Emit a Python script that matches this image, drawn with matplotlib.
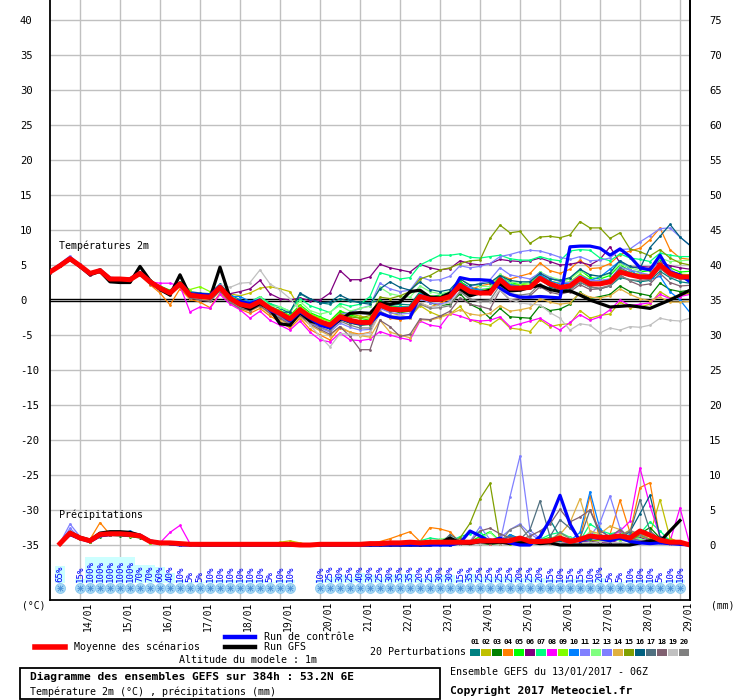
import numpy as np
import matplotlib
matplotlib.use("Agg")
import matplotlib.pyplot as plt
from matplotlib.lines import Line2D
from matplotlib.patches import Rectangle

plt.rcParams['font.family'] = ['DejaVu Sans Mono', 'DejaVu Sans']

# time base (hours after 13/01 06Z)
hours = list(range(0, 385, 6))
precip_hours = list(range(6, 385, 6))
day_hours = [18 + 24 * k for k in range(16)]
day_labels = ['14/01', '15/01', '16/01', '17/01', '18/01', '19/01', '20/01', '21/01',
              '22/01', '23/01', '24/01', '25/01', '26/01', '27/01', '28/01', '29/01']

# 2m temperature (degC)
mean_t = [4.0, 4.9, 5.9, 4.9, 3.8, 4.2, 3.0, 3.0, 2.9, 3.8,
          2.6, 1.7, 1.0, 2.3, 0.7, 0.5, 0.4, 1.8, 0.25, -0.6,
          -0.9, -0.2, -1.2, -1.9, -2.7, -1.4, -2.4, -3.1, -3.6, -2.4,
          -2.9, -3.2, -3.2, -0.7, -1.3, -1.4, -1.3, 0.5, 0.1, 0.1,
          0.5, 2.1, 1.2, 1.0, 1.0, 2.9, 1.7, 1.7, 1.8, 3.1,
          2.3, 1.8, 2.0, 3.1, 2.3, 2.3, 2.6, 4.0, 3.6, 3.3,
          3.3, 5.0, 3.8, 3.3, 3.3]
ctrl_t = [4.0, 5.0, 6.0, 4.8, 3.7, 4.3, 3.1, 3.0, 3.0, 3.9,
          2.7, 1.6, 1.1, 2.4, 0.9, 0.8, 0.7, 2.0, 0.1, -0.2,
          -0.5, 0.0, -1.5, -2.0, -3.0, -1.7, -2.6, -3.6, -4.0, -2.6,
          -3.1, -3.4, -3.3, -1.9, -2.4, -2.6, -2.5, 0.6, 0.2, 0.0,
          0.6, 3.2, 2.9, 2.9, 2.8, 1.7, 0.8, 0.4, 0.4, 0.5,
          0.4, 0.3, 7.6, 7.7, 7.7, 7.4, 6.4, 7.3, 6.2, 4.6,
          4.3, 6.4, 4.0, 3.6, 2.6]
gfs_t = [4.0, 4.9, 5.8, 4.8, 3.6, 4.1, 2.6, 2.5, 2.5, 4.8,
         2.8, 1.5, 0.7, 3.6, 0.6, 0.5, 0.3, 4.7, 0.3, -0.7,
         -1.3, -0.5, -1.3, -3.4, -3.6, -1.8, -3.0, -3.4, -3.9, -2.8,
         -1.9, -1.8, -1.9, -0.4, -0.6, -0.3, 1.2, 1.4, 0.4, 0.3,
         1.0, 1.6, 0.6, 1.0, 1.4, 2.3, 1.3, 1.4, 1.8, 2.1,
         1.5, 1.2, 1.3, 0.7, 0.0, -0.5, -1.0, -0.9, -0.8, -1.0,
         -1.2, -0.6, 0.0, 0.7, 1.4]

t01 = [4.1, 5.0, 6.1, 5.1, 3.9, 4.3, 3.1, 3.2, 3.0, 4.0, 2.8, 1.9, 1.3, 2.6, 1.2, 1.0, 0.9, 2.3, 0.8, 0.0,
       -0.3, 0.4, -0.6, -1.2, -1.9, 0.9, 0.1, -0.4, -0.6, 0.2, -0.2, -0.3, -0.4,
       0.0, -0.8, -0.6, -0.7, 1.2, 0.5, 0.7, 1.1, 2.6, 1.8, 1.5, 1.6, 3.3, 2.2, 2.1, 2.0, 3.0, 1.9,
       1.4, 1.6, 2.5, 1.9, 1.6, 2.0, 3.2, 2.9, 2.6, 2.8, 4.1, 3.2, 2.6, 2.4]
t02 = [3.9, 4.8, 5.7, 4.7, 3.6, 4.0, 2.8, 2.9, 2.7, 3.6, 2.4, 1.5, 0.9, 2.1, 0.5, 0.3, 0.6, 1.9, 0.9, 0.6,
       1.0, 1.7, 1.9, 1.6, 1.2, -1.2, -2.0, -2.6, -3.0, -1.6, -2.0, -2.3, -2.6,
       -0.9, -1.8, -2.2, -2.5, -0.8, -1.7, -2.3, -2.0, -0.9, -2.8, -3.3, -3.6, -2.6, -4.0, -4.2, -4.5, -2.8, -3.8,
       -3.5, -3.4, -1.5, -2.6, -2.2, -2.0, -0.3, -1.1, -1.0, -0.6, 1.2, 0.3, 0.6, 1.0]
t03 = [4.0, 5.0, 5.9, 4.8, 3.7, 4.1, 2.9, 2.9, 2.8, 3.7, 2.5, 1.5, 0.8, 2.1, 0.4, 0.2, 0.2, 1.6, 0.0, -0.9,
       -1.3, -0.5, -1.6, -2.4, -3.2, -1.8, -2.9, -3.6, -4.1, -2.8, -3.3, -3.6, -3.5,
       -1.0, -1.5, -1.8, -1.6, 0.3, -0.4, -0.8, -0.6, 0.9, -0.6, -1.3, -2.6, -1.2, -2.4, -2.5, -2.6, -0.8, -1.5,
       -1.3, -0.6, 1.1, 0.2, 0.5, 0.8, 2.0, 1.2, 0.9, 0.6, 2.4, 1.5, 1.2, 1.4]
t04 = [4.0, 4.8, 5.8, 4.9, 3.7, 4.0, 2.9, 2.9, 2.7, 3.6, 2.2, 1.0, -0.7, 1.6, 0.1, -0.3, -1.1, 1.0, -0.3, -1.3,
       -1.9, -1.2, -2.3, -3.1, -4.0, -2.6, -4.2, -5.0, -5.7, -4.0, -4.6, -4.9, -4.6,
       -1.8, -2.6, -2.8, -2.5, -0.4, -1.0, -0.5, 0.2, 2.4, 1.5, 2.0, 2.3, 3.6, 3.0, 3.4, 3.8, 5.3, 4.2,
       3.8, 4.4, 5.7, 4.5, 4.6, 5.2, 6.5, 7.0, 7.4, 8.6, 10.3, 7.2, 6.0, 5.8]
t05 = [4.1, 5.1, 6.0, 5.0, 3.9, 4.3, 3.1, 3.1, 3.0, 3.9, 2.8, 2.0, 1.4, 2.6, 1.0, 0.8, 0.8, 2.2, 0.4, -0.4,
       -0.6, 0.1, -0.9, -1.5, -2.2, -0.7, -1.8, -2.4, -3.0, -1.6, -2.1, -2.6, -2.9,
       -0.2, -1.0, -0.9, -1.0, 1.0, 0.4, 0.6, 0.9, 2.7, 1.6, 1.2, 1.7, 3.6, 2.5, 2.2, 2.6, 4.0, 3.1,
       2.7, 3.0, 4.3, 3.2, 3.0, 3.5, 5.0, 4.2, 4.0, 4.2, 5.8, 4.6, 4.0, 4.1]
t06 = [4.0, 4.9, 5.8, 4.8, 3.7, 4.1, 3.0, 2.9, 2.8, 3.7, 2.5, 1.6, 1.0, 2.2, 0.8, 0.6, 0.7, 2.0, 0.9, 1.2,
       1.6, 2.8, 0.9, 0.2, 0.0, 0.3, -0.1, 0.0, 1.0, 4.2, 2.9, 2.9, 3.3,
       5.1, 4.6, 4.3, 4.0, 5.1, 4.6, 4.3, 4.5, 5.6, 5.2, 5.0, 5.2, 5.8, 5.6, 5.5, 5.6, 6.0, 5.5,
       5.0, 5.1, 5.4, 5.0, 5.8, 7.6, 5.3, 4.6, 4.8, 4.7, 5.4, 4.9, 4.6, 4.4]
t07 = [4.1, 5.0, 6.0, 5.0, 3.9, 4.4, 3.2, 3.1, 3.0, 3.9, 2.7, 1.9, 1.2, 2.5, 0.9, 0.9, 0.7, 2.1, 0.6, -0.1,
       -0.3, 0.5, -0.5, -1.0, -1.6, 0.2, -0.8, -1.3, -1.8, -0.5, -0.9, -0.6, 0.5,
       3.9, 3.5, 3.0, 3.2, 5.0, 5.7, 6.4, 6.4, 6.6, 6.1, 6.0, 6.2, 6.4, 5.9, 5.7, 5.7, 6.2, 5.8,
       5.6, 7.0, 7.2, 7.1, 6.0, 5.6, 6.6, 6.0, 5.8, 5.5, 6.7, 6.4, 6.2, 6.2]
t08 = [3.9, 4.8, 5.8, 4.8, 3.6, 4.0, 2.8, 2.8, 2.8, 3.7, 2.6, 2.4, 2.4, 2.0, -1.7, -1.0, -1.2, 0.8, -0.6, -1.4,
       -2.6, -1.6, -2.9, -3.6, -4.3, -3.0, -4.6, -5.7, -6.0, -4.7, -5.7, -5.8, -5.6,
       -4.5, -5.0, -5.4, -5.7, -3.0, -3.6, -3.8, -1.9, -2.3, -2.8, -3.0, -2.9, -2.4, -3.8, -3.4, -3.0, -2.6, -3.5,
       -4.3, -3.2, -2.1, -2.9, -2.4, -1.4, 0.0, -0.8, -0.6, -0.4, 0.8, 0.2, 0.5, 0.8]
t09 = [4.0, 5.0, 5.9, 4.9, 3.8, 4.3, 3.1, 3.0, 2.9, 3.9, 2.7, 1.8, 1.2, 2.3, 1.5, 1.9, 1.2, 2.0, 0.5, -0.3,
       -0.7, 0.0, -1.0, -1.6, -2.3, -0.9, -2.0, -2.6, -3.1, -2.0, -2.4, -2.5, -2.6,
       -0.4, -1.1, -1.2, -1.1, 0.8, 0.6, 0.4, 0.8, 2.4, 1.6, 1.4, 1.5, 3.2, 2.1, 2.2, 2.3, 3.6, 2.7,
       2.4, 2.6, 3.7, 2.9, 2.7, 3.0, 4.4, 3.9, 3.7, 3.6, 5.3, 4.1, 3.7, 3.6]
t10 = [4.0, 4.9, 5.9, 4.9, 3.8, 4.2, 3.0, 3.0, 2.9, 3.8, 2.6, 1.8, 1.1, 2.4, 0.9, 0.7, 0.6, 2.1, 0.5, 0.5,
       -0.2, 0.2, -1.1, -1.7, -2.6, -1.2, -2.3, -3.0, -3.4, -2.2, -2.7, -3.1, -3.0,
       -0.5, -1.1, -1.0, -1.0, 0.9, 0.4, 0.3, 0.8, 2.4, 1.7, 1.4, 1.3, 3.3, 2.2, 1.9, 2.0, 3.6, 2.7,
       2.3, 2.4, 3.5, 2.8, 3.3, 4.4, 5.6, 4.4, 3.2, 2.9, 3.4, 1.2, 0.0, -1.8]
t11 = [4.2, 5.2, 6.3, 5.1, 3.9, 4.3, 3.0, 3.0, 2.9, 3.8, 2.5, 1.6, 0.9, 2.2, 0.6, 0.4, 0.3, 1.7, 0.1, -0.8,
       -1.1, -0.4, -1.5, -2.3, -3.1, -1.9, -2.8, -3.2, -3.4, -2.0, -1.8, -1.2, -0.8,
       2.4, 1.6, 1.2, 1.4, 3.3, 2.8, 2.9, 3.4, 4.9, 4.6, 4.8, 5.2, 6.2, 6.5, 6.9, 7.1, 7.0, 6.6,
       6.1, 5.8, 6.2, 5.6, 5.7, 6.0, 7.2, 7.3, 8.3, 9.2, 10.2, 10.3, 9.0, 7.8]
t12 = [4.1, 5.0, 5.9, 4.8, 3.8, 4.2, 3.1, 3.1, 2.9, 3.7, 2.6, 1.7, 1.1, 2.3, 0.8, 0.7, 0.6, 1.9, 0.5, -0.3,
       -0.5, 0.4, -0.8, -1.0, -1.6, -0.2, -1.5, -2.0, -1.7, -0.8, -1.6, -1.2, -0.9,
       1.8, 0.9, 0.6, 0.4, 2.0, 1.2, 0.9, 1.2, 3.0, 2.2, 2.0, 1.9, 3.7, 2.6, 2.4, 2.5, 4.0, 3.3,
       2.9, 3.0, 4.1, 3.6, 3.3, 3.8, 5.2, 4.6, 4.2, 4.4, 6.0, 5.5, 5.6, 5.7]
t13 = [4.0, 4.9, 5.9, 4.9, 3.9, 4.2, 2.9, 2.9, 2.9, 3.8, 2.4, 1.5, 0.9, 2.2, 0.5, 0.2, 0.1, 1.5, 0.0, -0.9,
       -1.3, -0.6, -1.6, -2.4, -3.4, -2.0, -3.2, -4.0, -4.6, -3.3, -3.9, -4.3, -4.2,
       -1.2, -1.8, -2.0, -1.9, 0.2, -0.4, -0.6, -0.2, 1.8, 1.9, 2.4, 2.9, 4.6, 3.6, 3.3, 3.0, 3.9, 3.2,
       2.6, 2.5, 3.5, 2.8, 2.8, 3.0, 4.7, 4.3, 3.9, 3.6, 6.2, 4.4, 3.5, 3.3]
t14 = [3.9, 4.8, 5.8, 4.8, 3.7, 4.1, 2.9, 2.9, 2.8, 3.7, 2.4, 1.4, 0.7, 2.0, 0.3, 0.1, 0.0, 1.4, -0.3, -1.2,
       -1.6, -0.9, -2.0, -2.8, -3.6, -2.4, -3.6, -4.4, -5.1, -3.8, -4.6, -5.1, -5.3,
       -2.9, -4.6, -5.0, -5.4, -2.8, -2.9, -2.5, -2.0, -1.4, -2.0, -2.2, -1.9, -0.8, -1.6, -1.4, -1.1, 0.2, -0.3,
       -0.6, -0.4, 1.0, 0.4, 0.3, 0.6, 1.6, 0.8, 0.2, -0.1, 0.4, -0.3, -0.3, -0.2]
t15 = [4.1, 5.0, 6.0, 5.0, 3.8, 4.2, 3.0, 3.0, 3.0, 3.9, 2.7, 1.8, 1.1, 2.4, 0.8, 0.6, 0.5, 1.9, 0.4, -0.4,
       -0.8, -0.1, -1.1, -1.7, -2.5, -1.2, -2.2, -2.9, -3.3, -2.0, -2.4, -2.6, -2.2,
       0.4, 0.2, 0.6, 1.2, 3.0, 3.5, 4.3, 4.6, 5.2, 5.6, 5.7, 8.8, 10.7, 9.6, 9.8, 8.1, 9.0, 9.1,
       8.9, 9.3, 11.2, 10.3, 10.3, 8.8, 9.6, 7.3, 6.9, 6.3, 7.2, 6.0, 5.3, 5.0]
t16 = [4.0, 4.9, 5.9, 4.9, 3.8, 4.2, 3.0, 2.9, 2.9, 3.8, 2.6, 1.7, 1.1, 2.3, 0.8, 0.6, 0.5, 1.9, 0.3, -0.5,
       -0.8, -0.1, -1.1, -1.8, -1.7, 1.0, 0.2, -0.4, -0.3, 0.7, 0.0, -0.4, -0.6,
       1.6, 2.6, 1.8, 1.4, 2.6, 1.5, 1.2, 1.5, 3.0, 2.1, 2.3, 2.5, 3.5, 2.8, 2.6, 2.6, 3.8, 3.0,
       2.8, 3.2, 4.4, 3.6, 3.4, 3.9, 5.6, 4.8, 4.5, 7.5, 9.1, 10.8, 9.0, 7.8]
t17 = [4.0, 4.9, 5.8, 4.9, 3.7, 4.1, 3.0, 3.0, 2.9, 3.7, 2.5, 1.6, 1.0, 2.2, 0.6, 0.4, 0.2, 1.7, 0.2, -0.7,
       -1.0, -0.3, -1.3, -2.0, -2.9, -1.6, -2.6, -3.3, -3.8, -2.7, -3.1, -3.5, -3.4,
       -0.8, -1.5, -1.6, -1.4, 0.4, -0.1, 0.0, 0.3, 1.9, 1.0, 0.9, 0.9, 2.6, 1.5, 1.4, 1.7, 3.2, 2.3,
       1.9, 2.2, 3.3, 2.6, 2.5, 2.9, 4.6, 3.9, 3.4, 3.5, 4.6, 3.4, 3.0, 2.9]
t18 = [3.9, 4.8, 5.8, 4.8, 3.6, 4.0, 2.8, 2.8, 2.7, 3.6, 2.3, 1.4, 0.7, 2.0, 0.3, 0.0, -0.2, 1.3, -0.3, -1.2,
       -1.5, -0.8, -1.9, -2.6, -3.5, -2.2, -3.4, -4.2, -4.9, -3.8, -5.2, -7.1, -7.1,
       -2.9, -3.8, -5.2, -4.9, -2.7, -2.8, -2.3, -1.6, 0.3, -0.6, -0.9, -1.3, 1.4, 0.0, 0.2, 0.6, 1.9, 1.1,
       0.8, 1.2, 2.2, 1.5, 1.6, 2.0, 3.6, 2.7, 2.1, 2.3, 3.8, 2.5, 2.0, 2.1]
t19 = [4.0, 5.0, 5.9, 4.9, 3.8, 4.1, 2.9, 3.0, 2.9, 3.8, 2.6, 1.7, 1.0, 2.3, 0.7, 0.5, 0.8, 2.2, 1.8, 2.4,
       2.5, 4.3, 2.3, 1.4, 0.2, -1.5, -3.6, -5.2, -6.7, -4.8, -4.9, -5.0, -4.7,
       -1.8, -2.4, -2.2, -2.6, -0.4, -1.0, -0.8, -0.3, 1.2, 0.2, -0.3, -0.3, 1.5, 0.1, -0.4, -0.6, -0.7, -1.8,
       -2.6, -4.3, -3.4, -3.6, -4.7, -4.0, -4.3, -3.8, -3.9, -3.6, -2.6, -2.9, -3.0, -2.6]
t20 = [3.9, 4.8, 5.7, 4.7, 3.7, 4.0, 2.8, 2.8, 2.7, 3.6, 2.4, 1.5, 0.8, 2.1, 0.5, 0.3, 0.2, 1.5, -0.1, -1.0,
       -1.4, -0.6, -1.6, -2.3, -3.3, -1.9, -3.1, -3.9, -4.4, -3.0, -3.6, -4.0, -4.0,
       -1.6, -2.3, -2.5, -2.4, -0.6, -1.2, -1.1, -0.8, 1.2, 0.1, -0.1, 0.0, 2.1, 0.9, 0.7, 0.9, 2.3, 1.5,
       1.2, 1.4, 2.6, 1.8, 1.7, 2.1, 3.4, 2.9, 2.8, 2.9, 4.5, 3.4, 3.0, 3.1]

# 6h precipitation (mm), from h6
mean_p = [0.2, 1.7, 1.0, 0.6, 1.5, 1.6, 1.6, 1.5, 1.3, 0.5,
          0.3, 0.3, 0.2, 0.1, 0.1, 0.1, 0.1, 0.1, 0.1, 0.1,
          0.1, 0.1, 0.1, 0.1, 0.0, 0.0, 0.1, 0.1, 0.1, 0.1,
          0.1, 0.2, 0.2, 0.3, 0.3, 0.4, 0.3, 0.4, 0.4, 0.4,
          0.4, 0.4, 0.6, 0.6, 0.6, 0.6, 1.0, 0.5, 0.5, 0.6,
          1.0, 0.5, 0.8, 1.3, 1.1, 1.1, 1.3, 1.0, 2.0, 1.4,
          0.7, 0.4, 0.4, 0.0]
ctrl_p = [0.2, 1.5, 0.9, 0.5, 1.3, 1.5, 1.5, 1.4, 1.4, 0.6,
          0.3, 0.2, 0.0, 0.0, 0.0, 0.0, 0.0, 0.0, 0.0, 0.0,
          0.0, 0.0, 0.0, 0.0, 0.0, 0.0, 0.0, 0.0, 0.0, 0.0,
          0.0, 0.0, 0.0, 0.0, 0.0, 0.0, 0.0, 0.0, 0.0, 0.0,
          0.3, 2.0, 1.3, 0.5, 1.0, 0.3, 0.0, 0.0, 1.2, 3.6,
          7.1, 3.0, 0.5, 1.2, 0.9, 0.6, 1.0, 0.5, 0.3, 0.2,
          0.3, 0.2, 0.1, 0.0]
gfs_p = [0.2, 1.8, 1.1, 0.7, 1.7, 1.9, 1.9, 1.8, 1.4, 0.5,
         0.3, 0.2, 0.1, 0.1, 0.0, 0.0, 0.0, 0.0, 0.0, 0.0,
         0.0, 0.0, 0.0, 0.0, 0.0, 0.0, 0.0, 0.0, 0.0, 0.0,
         0.0, 0.0, 0.0, 0.0, 0.0, 0.0, 0.0, 0.0, 0.3, 1.0,
         0.3, 0.2, 0.5, 0.3, 0.4, 0.2, 0.3, 0.4, 0.2, 0.3,
         0.0, 0.0, 0.0, 0.0, 0.0, 0.0, 0.0, 0.0, 0.3, 0.6,
         0.5, 2.0, 3.5]

p01 = [0.2, 1.6, 1.0, 0.5, 1.4, 1.6, 1.7, 1.6, 1.2, 0.4] + [0.3, 0.2, 0.1] + [0.0] * 17 + \
      [0.0, 0.0, 0.0, 0.1, 0.2, 0.4, 0.3, 0.2, 0.5, 0.3, 0.2, 0.5, 0.8, 0.4, 0.3, 1.5, 0.9, 0.6, 0.8, 3.6,
       1.2, 0.3, 0.4, 0.6, 0.4, 1.0, 0.7, 0.9, 0.4, 0.6, 0.3, 0.2, 0.1, 0.0]
p02 = [0.1, 1.5, 0.9, 0.6, 1.3, 1.5, 1.5, 1.3, 1.1, 0.4] + [0.2, 0.2, 0.1] + [0.0] * 9 + [0.4, 0.6, 0.3] + [0.0] * 5 + \
      [0.0, 0.0, 0.2, 0.1, 0.0, 0.1, 0.3, 0.2, 0.1, 0.0, 0.3, 0.2, 0.4, 0.6, 0.4, 0.2, 0.3, 0.8, 0.5, 0.3,
       0.2, 0.4, 1.2, 0.6, 0.8, 0.5, 1.4, 2.1, 0.9, 1.5, 6.5, 1.0, 0.3, 0.0]
p03 = [0.1, 1.4, 0.8, 0.4, 1.2, 1.4, 1.3, 1.2, 1.0, 0.4] + [0.2, 0.2, 0.1] + [0.0] * 17 + \
      [0.0, 0.0, 0.0, 0.0, 0.1, 0.0, 0.2, 0.1, 0.0, 0.0, 0.1, 0.3, 0.2, 0.1, 0.2, 0.4, 0.3, 0.2, 0.6, 0.4,
       0.3, 0.2, 0.5, 0.8, 0.4, 0.6, 0.9, 0.4, 1.6, 2.5, 1.0, 0.4, 0.2, 0.0]
p04 = [0.2, 1.6, 1.1, 0.8, 3.2, 1.5, 1.4, 1.3, 1.2, 0.4] + [0.2, 0.1, 0.1] + [0.0] * 17 + \
      [0.0, 0.2, 0.5, 0.9, 1.4, 1.9, 0.5, 2.5, 2.3, 1.9, 0.3, 0.2, 0.4, 0.3, 0.2, 0.6, 0.3, 0.5, 0.4, 0.2,
       0.3, 0.6, 1.0, 7.0, 0.5, 1.5, 6.4, 1.8, 8.2, 8.9, 1.0, 0.8, 0.5, 0.0]
p05 = [0.2, 1.7, 0.9, 0.5, 1.4, 1.5, 1.4, 1.3, 1.2, 0.3] + [0.2, 0.1] + [0.0] * 18 + \
      [0.0, 0.0, 0.0, 0.1, 0.2, 0.1, 0.0, 0.3, 0.2, 0.1, 0.4, 0.5, 1.2, 1.9, 0.6, 0.3, 0.5, 0.4, 0.7, 1.1,
       0.6, 0.9, 0.4, 1.2, 0.8, 0.5, 1.0, 1.4, 0.9, 0.5, 0.8, 0.4, 0.2, 0.0]
p06 = [0.2, 1.8, 1.1, 0.6, 1.6, 1.7, 1.7, 1.6, 1.3, 0.5] + [0.3, 0.2, 0.1] + [0.0] * 17 + \
      [0.0, 0.0, 0.0, 0.0, 0.2, 0.1, 0.0, 0.2, 0.1, 0.0, 0.2, 0.4, 0.3, 0.2, 0.5, 0.8, 0.3, 0.4, 0.6, 0.3,
       0.2, 0.5, 0.3, 0.6, 0.4, 0.3, 0.8, 0.6, 1.0, 0.7, 0.3, 0.2, 0.1, 0.0]
p07 = [0.2, 1.6, 1.0, 0.6, 1.5, 1.6, 1.5, 1.4, 1.2, 0.4] + [0.2, 0.1] + [0.0] * 18 + \
      [0.0, 0.0, 0.1, 0.0, 0.2, 0.4, 0.6, 1.0, 0.8, 0.5, 1.2, 1.6, 1.9, 0.4, 0.3, 0.6, 0.9, 0.5, 0.8, 1.5,
       1.8, 1.1, 0.6, 3.0, 2.1, 1.6, 1.9, 1.2, 1.6, 3.3, 2.0, 0.6, 0.3, 0.0]
p08 = [0.2, 1.7, 1.0, 0.6, 1.4, 1.5, 1.6, 1.4, 1.2, 0.4] + [0.3, 1.8, 2.8, 0.2] + [0.0] * 16 + \
      [0.0, 0.0, 0.0, 0.0, 0.1, 0.2, 0.0, 0.1, 0.3, 0.2, 0.1, 0.3, 0.5, 0.2, 0.4, 0.6, 0.3, 0.2, 0.5, 0.4,
       0.6, 0.3, 0.9, 1.4, 0.6, 1.2, 2.0, 3.4, 11.0, 5.6, 1.2, 0.5, 5.3, 0.0]
p09 = [0.2, 1.5, 0.8, 0.5, 1.3, 1.4, 1.5, 1.4, 1.1, 0.3] + [0.2, 0.1] + [0.0] * 18 + \
      [0.0, 0.0, 0.0, 0.0, 0.0, 0.2, 0.1, 0.0, 0.2, 0.1, 0.3, 0.2, 0.5, 0.4, 0.3, 0.2, 0.6, 0.4, 0.3, 0.5,
       0.4, 0.7, 0.5, 0.9, 0.6, 1.1, 0.8, 1.5, 1.9, 0.6, 0.5, 0.8, 0.3, 0.0]
p10 = [0.2, 1.6, 1.0, 0.5, 1.3, 1.5, 1.6, 2.0, 1.3, 0.6] + [0.4, 0.3, 0.1] + [0.0] * 17 + \
      [0.0, 0.0, 0.0, 0.1, 0.0, 0.2, 0.3, 0.1, 0.2, 0.0, 0.2, 0.4, 0.6, 0.3, 0.5, 1.4, 0.8, 0.6, 0.4, 0.7,
       1.1, 0.6, 1.8, 7.6, 2.3, 1.0, 0.8, 1.5, 0.9, 0.4, 0.3, 0.6, 0.4, 0.0]
p11 = [0.3, 3.0, 1.2, 0.7, 1.6, 1.7, 1.6, 1.5, 1.3, 0.5] + [0.3, 0.2, 0.1] + [0.0] * 17 + \
      [0.0, 0.0, 0.0, 0.1, 0.0, 0.0, 0.2, 0.3, 0.1, 0.2, 0.6, 0.5, 2.6, 0.8, 0.4, 6.9, 12.7, 2.1, 0.9, 0.5,
       0.4, 0.6, 0.8, 0.5, 1.2, 0.9, 0.6, 1.1, 0.7, 0.5, 0.3, 0.2, 0.1, 0.0]
p12 = [0.2, 1.7, 1.1, 0.6, 1.5, 1.6, 1.5, 1.4, 1.2, 0.5] + [0.2, 0.1] + [0.0] * 18 + \
      [0.0, 0.0, 0.0, 0.0, 0.0, 0.1, 0.2, 0.4, 0.8, 1.1, 0.6, 0.4, 0.9, 1.8, 0.5, 0.3, 0.4, 0.6, 0.5, 0.9,
       1.6, 1.0, 0.6, 1.9, 1.3, 0.8, 0.6, 1.2, 0.9, 0.5, 0.4, 0.3, 0.2, 0.0]
p13 = [0.2, 2.4, 1.0, 0.6, 1.4, 1.6, 1.6, 1.4, 1.2, 0.4] + [0.2, 0.1] + [0.0] * 18 + \
      [0.0, 0.0, 0.0, 0.0, 0.1, 0.0, 0.1, 0.2, 0.0, 0.1, 0.3, 0.2, 0.4, 0.6, 1.0, 2.2, 3.0, 1.6, 0.7, 0.5,
       0.8, 0.4, 0.6, 1.2, 3.2, 7.0, 2.4, 0.9, 0.6, 0.5, 0.4, 0.6, 0.3, 0.0]
p14 = [0.2, 1.5, 0.9, 0.5, 1.3, 1.4, 1.4, 1.3, 1.1, 0.4] + [0.2, 0.1] + [0.0] * 18 + \
      [0.0, 0.0, 0.0, 0.0, 0.0, 0.1, 0.2, 0.1, 0.2, 0.3, 0.2, 0.4, 0.3, 0.2, 0.5, 0.3, 0.6, 0.4, 0.3, 0.7,
       1.5, 3.2, 6.6, 2.0, 1.6, 2.7, 2.2, 1.0, 1.6, 0.8, 0.6, 0.5, 0.2, 0.0]
p15 = [0.2, 1.6, 1.0, 0.5, 1.5, 1.5, 1.6, 1.5, 1.2, 0.4] + [0.2, 0.1] + [0.0] * 18 + \
      [0.0, 0.0, 0.0, 0.0, 0.1, 0.2, 0.3, 0.6, 0.4, 0.2, 1.0, 3.1, 6.6, 8.8, 0.4, 0.3, 0.5, 0.6, 0.4, 0.3,
       0.6, 0.5, 0.9, 0.7, 0.5, 1.3, 0.8, 0.6, 1.4, 0.8, 0.5, 0.4, 0.2, 0.0]
p16 = [0.2, 1.6, 1.0, 0.6, 1.4, 1.6, 1.5, 1.5, 1.3, 0.5] + [0.3, 0.2] + [0.0] * 18 + \
      [0.0, 0.0, 0.0, 0.0, 0.0, 0.0, 0.0, 0.3, 0.2, 0.4, 0.2, 0.4, 0.3, 0.5, 0.4, 0.6, 0.3, 0.5, 0.7, 0.4,
       0.6, 0.9, 0.5, 0.8, 1.3, 0.7, 1.0, 1.9, 4.5, 7.1, 1.2, 0.6, 0.3, 0.0]
p17 = [0.2, 1.7, 1.1, 0.6, 1.5, 1.6, 1.7, 1.6, 1.3, 0.5] + [0.4, 0.3, 0.1] + [0.0] * 17 + \
      [0.0, 0.0, 0.0, 0.0, 0.0, 0.1, 0.0, 0.2, 0.1, 1.5, 0.6, 0.3, 0.5, 0.4, 0.6, 1.2, 0.8, 2.2, 6.3, 1.2,
       3.6, 2.4, 0.9, 5.0, 1.5, 1.0, 1.4, 1.8, 6.5, 2.0, 0.8, 0.4, 0.2, 0.0]
p18 = [0.2, 1.6, 1.0, 0.6, 1.4, 1.5, 1.6, 1.5, 1.2, 0.4] + [0.3, 0.2] + [0.0] * 18 + \
      [0.0, 0.0, 0.0, 0.0, 0.1, 0.2, 0.1, 0.0, 0.2, 0.1, 0.3, 0.4, 2.0, 2.4, 1.6, 1.0, 0.7, 1.3, 2.0, 3.0,
       5.1, 3.3, 4.0, 5.0, 2.0, 1.2, 2.2, 1.0, 0.6, 0.5, 0.5, 0.4, 0.3, 0.0]
p19 = [0.2, 1.6, 1.0, 0.6, 1.4, 1.6, 1.6, 1.4, 1.2, 0.4] + [0.2, 0.1] + [0.0] * 18 + \
      [0.0, 0.0, 0.0, 0.0, 0.0, 0.0, 0.1, 0.0, 0.1, 0.2, 0.1, 0.2, 0.1, 0.3, 0.2, 0.4, 0.3, 0.2, 0.3, 0.2,
       0.3, 0.2, 0.4, 0.3, 0.5, 0.4, 0.3, 0.6, 0.4, 0.3, 0.2, 0.1, 0.1, 0.0]
p20 = [0.2, 2.0, 1.1, 0.7, 1.6, 1.7, 1.7, 1.5, 1.3, 0.5] + [0.3, 0.2, 0.1] + [0.0] * 17 + \
      [0.0, 0.0, 0.0, 0.0, 0.0, 0.1, 0.2, 0.1, 0.3, 0.5, 0.4, 0.6, 0.8, 0.5, 0.3, 2.2, 2.8, 0.9, 0.6, 0.5,
       1.8, 0.9, 0.7, 1.3, 0.8, 0.6, 1.2, 2.1, 1.5, 0.7, 0.4, 0.3, 0.2, 0.0]

# probability of precipitation (%) per 6h step, h6..h378 ; None = no symbol
pct_hours = list(range(6, 384, 6))
pct_values = [65, None, 15, 100, 100, 100, 100, 100, 70, 70, 60, 40, 10, 5, 5, 10, 10, 10, 10, 10, 10, 5,
              10, 10, None, None, 10, 25, 30, 25, 40, 30, 25, 30, 35, 35, 20, 25, 30, 30, 15, 35,
              25, 25, 25, 25, 20, 25, 20, 15, 10, 15, 15, 10, 20, 5, 5, 10, 10, 10, 5, 10, 10]

pert_temps = [t01, t02, t03, t04, t05, t06, t07, t08, t09, t10,
              t11, t12, t13, t14, t15, t16, t17, t18, t19, t20]
pert_precs = [p01, p02, p03, p04, p05, p06, p07, p08, p09, p10,
              p11, p12, p13, p14, p15, p16, p17, p18, p19, p20]
pert_colors = ['#008080', '#c0c000', '#008000', '#ff8000', '#00ff00', '#800080', '#00ff80',
               '#ff00ff', '#80ff00', '#0080ff', '#8080ff', '#80ff80', '#7f7fff', '#e0b040',
               '#80a000', '#006080', '#507080', '#806070', '#c0c0c0', '#808080']

PRECIP_BASE = -35.0  # 0 mm sits on -35 of the temperature scale

W, H = 740, 700


def fx(x):
    return x / W


def fy(y):
    return 1 - y / H


fig = plt.figure(figsize=(7.4, 7.0), dpi=100)
ax = fig.add_axes([fx(50), 1 - 600 / H, 640 / W, 600 / H])
ax.set_xlim(0, 384)
ax.set_ylim(-300 / 7, 300 / 7)

yt = list(range(-35, 41, 5))
grid_c = '#c0c0c0'
for v in yt:
    if v != 0:
        ax.axhline(v, color=grid_c, lw=1, zorder=0.5)
for h in day_hours:
    ax.axvline(h, color=grid_c, lw=1, zorder=0.5)
ax.axhline(0.15, color='black', lw=1, zorder=1.5)
ax.axhline(-0.15, color='black', lw=1, zorder=1.5)

# precipitation probability boxes, labels and snow symbols
bar_h = [h for h, p in zip(pct_hours, pct_values) if p is not None]
bar_p = [p for p in pct_values if p is not None]
ax.bar(bar_h, [p / 100 * 26 / 7 for p in bar_p], width=6, bottom=-283 / 7,
       color='#ccffff', zorder=0.8, linewidth=0)
for h, p in zip(bar_h, bar_p):
    ax.text(h, -282 / 7, f'{p}%', rotation=90, ha='center', va='bottom',
            color='#0000ff', fontsize=6.6, zorder=5)
snow_y = [-288 / 7] * len(bar_h)
ax.scatter(bar_h, snow_y, s=52, marker='o', facecolor='#a8daf5', edgecolor='#80c4ee',
           linewidth=0.5, zorder=3)
ax.scatter(bar_h, snow_y, s=16, marker='x', color='#4a90d9', linewidth=0.6, zorder=3.1)
ax.scatter(bar_h, snow_y, s=22, marker='+', color='#4a90d9', linewidth=0.6, zorder=3.1)

# ensemble members
for temps, precs, c in zip(pert_temps, pert_precs, pert_colors):
    ax.plot(hours, temps, color=c, lw=0.9, marker='o', ms=2.0, mew=0, zorder=2)
    ax.plot(precip_hours, np.array(precs) + PRECIP_BASE, color=c, lw=0.9,
            marker='o', ms=2.0, mew=0, zorder=2)

ax.plot(hours, gfs_t, color='black', lw=2.3, zorder=3)
ax.plot(precip_hours[:len(gfs_p)], np.array(gfs_p) + PRECIP_BASE, color='black', lw=2.3, zorder=3)
ax.plot(hours, ctrl_t, color='#0000ff', lw=2.3, zorder=3.5)
ax.plot(precip_hours, np.array(ctrl_p) + PRECIP_BASE, color='#0000ff', lw=2.3, zorder=3.5)
ax.plot(hours, mean_t, color='#ff0000', lw=3.6, zorder=4)
ax.plot(precip_hours, np.array(mean_p) + PRECIP_BASE, color='#ff0000', lw=3.6, zorder=4)

ax.text(0.0140, (600 - 246) / 600, 'Températures 2m', transform=ax.transAxes, fontsize=7.2, va='center')
ax.text(0.0140, (600 - 515) / 600, 'Précipitations', transform=ax.transAxes, fontsize=7.2, va='center')

# axes, ticks
ax.set_yticks(yt)
ax.set_yticklabels([str(v) for v in yt])
for lab in ax.get_yticklabels():
    lab.set_horizontalalignment('left')
ax.tick_params(axis='y', length=0, pad=21.6, labelsize=7.6)
ax.set_xticks(day_hours)
ax.set_xticklabels([])
ax.set_xticks([h + 4.8 for h in day_hours], minor=True)
ax.set_xticklabels(day_labels, minor=True)
ax.tick_params(axis='x', which='major', length=0)
ax.tick_params(axis='x', which='minor', length=0, pad=1.5, labelsize=7, labelrotation=90)
for s in ['left', 'right', 'bottom']:
    ax.spines[s].set_linewidth(1.3)
ax.spines['top'].set_visible(False)

ax2 = ax.twinx()
ax2.set_ylim(ax.get_ylim())
ax2.set_yticks(yt)
ax2.set_yticklabels([str(v + 35) for v in yt])
ax2.tick_params(axis='y', length=0, pad=13.7, labelsize=7.6)
for s in ['left', 'top', 'bottom']:
    ax2.spines[s].set_visible(False)
ax2.spines['right'].set_linewidth(1.3)

fig.text(fx(22), fy(606), '(°C)', fontsize=7, va='center')
fig.text(fx(711), fy(606), '(mm)', fontsize=7, va='center')

# legend
fig.add_artist(Line2D([fx(35), fx(65)], [fy(647), fy(647)], color='#ff0000', lw=4))
fig.text(fx(74), fy(647), 'Moyenne des scénarios', fontsize=7.2, va='center')
fig.add_artist(Line2D([fx(225), fx(255)], [fy(637), fy(637)], color='#0000ff', lw=3.2))
fig.text(fx(264), fy(637), 'Run de contrôle', fontsize=7.2, va='center')
fig.add_artist(Line2D([fx(225), fx(255)], [fy(647), fy(647)], color='black', lw=3.2))
fig.text(fx(264), fy(647), 'Run GFS', fontsize=7.2, va='center')
fig.text(fx(179), fy(660), 'Altitude du modele : 1m', fontsize=7.2, va='center')

fig.text(fx(370), fy(652), '20 Perturbations', fontsize=7.2, va='center')
for i, c in enumerate(pert_colors):
    x0 = 470 + i * 11
    fig.add_artist(Rectangle((fx(x0), fy(656)), 10 / W, 7 / H, facecolor=c, edgecolor='none'))
    fig.text(fx(x0 + 5), fy(642), f'{i + 1:02d}', fontsize=5.4, ha='center', va='center',
             fontweight='bold')

fig.add_artist(Rectangle((fx(20), fy(699)), 420 / W, 31 / H, facecolor='none',
                         edgecolor='black', lw=1.3))
fig.text(fx(30), fy(677), 'Diagramme des ensembles GEFS sur 384h : 53.2N 6E',
         fontsize=8.1, fontweight='bold', va='center')
fig.text(fx(30), fy(692), 'Température 2m (°C) , précipitations (mm)', fontsize=7.2, va='center')
fig.text(fx(450), fy(672), 'Ensemble GEFS du 13/01/2017 - 06Z', fontsize=7.2, va='center')
fig.text(fx(450), fy(691), 'Copyright 2017 Meteociel.fr', fontsize=8.1, fontweight='bold', va='center')

fig.savefig('out.png', dpi=100)
